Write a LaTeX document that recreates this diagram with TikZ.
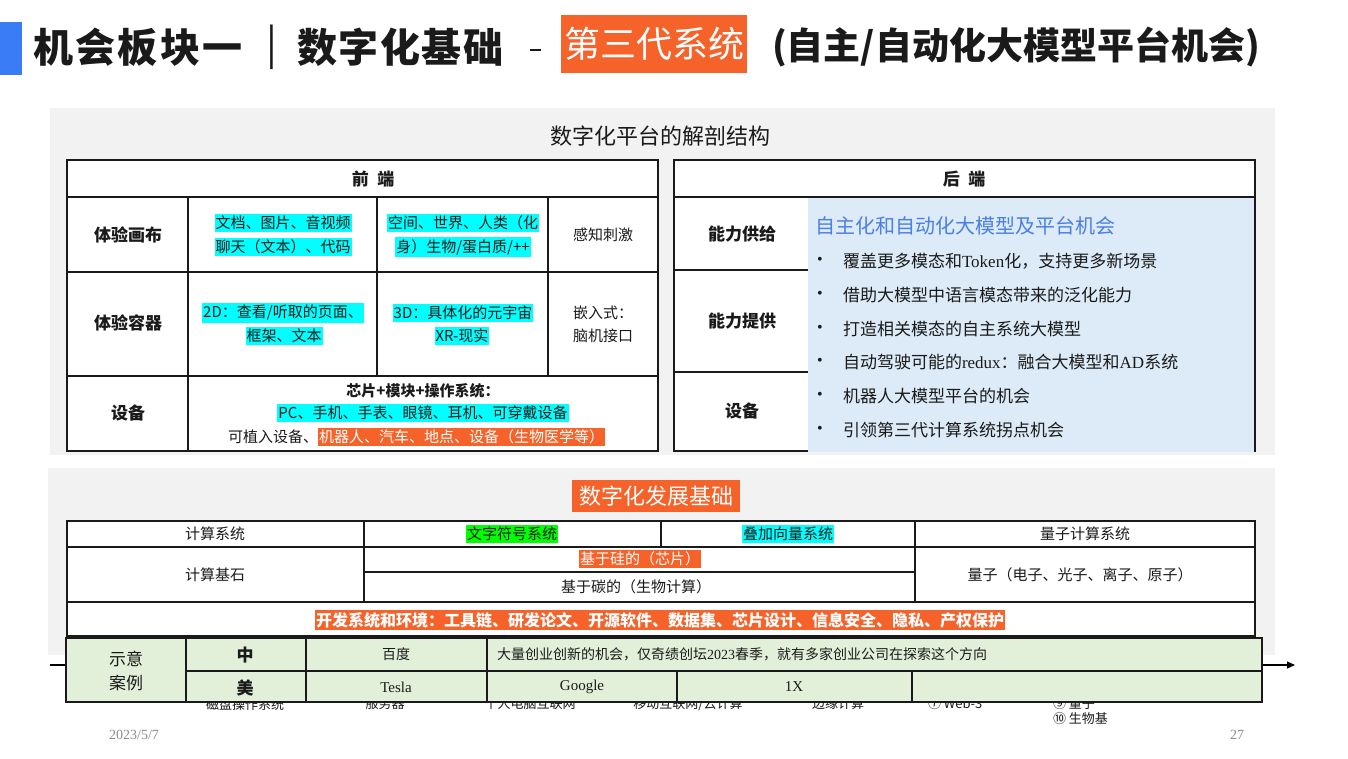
\documentclass[tikz,border=0pt]{standalone}
\usepackage{fontspec}
\setmainfont{Noto Sans CJK SC}
\newfontfamily\lat{Liberation Serif}
\usetikzlibrary{arrows.meta}
\definecolor{orng}{HTML}{F5622A}
\definecolor{bluebar}{HTML}{3A7CF6}
\definecolor{panel}{HTML}{F2F2F2}
\definecolor{ltblue}{HTML}{DCEBF7}
\definecolor{grn}{HTML}{E2F0D9}
\definecolor{hlcyan}{HTML}{00FFFF}
\definecolor{hlgreen}{HTML}{00FF00}
\definecolor{bluetxt}{HTML}{4A7FE3}
\definecolor{foot}{HTML}{8C8C8C}
\definecolor{ink}{HTML}{1A1A1A}
\newcommand\fsz[2]{\fontsize{#1}{#2}\selectfont}
\begin{document}
\begin{tikzpicture}[x=1pt,y=-1pt,
  every node/.style={inner sep=0pt, outer sep=0pt, text=ink},
  tbl/.style={draw=ink, line width=1.3pt},
  cell/.style={font=\fsz{15}{18}},
  lbl/.style={font=\fsz{17}{20}\bfseries},
  hl/.style={fill=hlcyan, inner xsep=1pt, inner ysep=2pt},
  hlo/.style={fill=orng, text=white, inner xsep=1pt, inner ysep=2pt},
  bul/.style={anchor=west, font=\fsz{17}{20}},
  hid/.style={font=\fsz{13}{15}}
]
\useasboundingbox (0,0) rectangle (1348,759);
\fill[white] (0,0) rectangle (1348,759);

% ---------- title ----------
\fill[bluebar] (0,22) rectangle (22,75);
\node[anchor=west, font=\fsz{40}{44}\bfseries\addfontfeature{LetterSpace=6}] (t1) at (33,47) {机会板块一};
\node[font=\fsz{40}{44}] (t2) at (272,47) {|};
\node[anchor=west, font=\fsz{40}{44}\bfseries\addfontfeature{LetterSpace=4}] (t3) at (297,47) {数字化基础};
\draw[line width=2.2pt, ink] (530,50) -- (541,50);
\node[fill=orng, minimum width=186pt, minimum height=58pt, text=white, font=\fsz{36}{40}] (t5) at (654,44) {第三代系统};
\node[anchor=west, font=\fsz{37}{42}\bfseries] (t6) at (772,47) {(自主/自动化大模型平台机会)};

% ---------- upper panel ----------
\fill[panel] (50,108) rectangle (1275,455);
\node[font=\fsz{22}{26}] (uptitle) at (660,136) {数字化平台的解剖结构};

% left table
\fill[white] (67,160) rectangle (658,451);
\draw[tbl] (67,160) rectangle (658,451);
\draw[tbl] (67,197) -- (658,197);
\draw[tbl] (67,272) -- (658,272);
\draw[tbl] (67,376) -- (658,376);
\draw[tbl] (188,197) -- (188,451);
\draw[tbl] (377,197) -- (377,376);
\draw[tbl] (548,197) -- (548,376);

\node[lbl] (qd) at (373,179) {前\hspace{0.5em}端};
\node[lbl] (l1) at (128,235) {体验画布};
\node[lbl] (l2) at (128,323) {体验容器};
\node[lbl] (l3) at (128,413) {设备};

\node[cell,hl] (c11a) at (283,223) {文档、图片、音视频};
\node[cell,hl] (c11b) at (283,247) {聊天（文本）、代码};
\node[cell,hl] (c12a) at (463,223) {空间、世界、人类（化};
\node[cell,hl] (c12b) at (463,247) {身）生物/蛋白质/++};
\node[cell] (c13) at (603,235) {感知刺激};

\node[cell,hl] (c21a) at (283,313) {2D：查看/听取的页面、};
\node[cell,hl] (c21b) at (284,336) {框架、文本};
\node[cell,hl] (c22a) at (463,313) {3D：具体化的元宇宙};
\node[cell,hl] (c22b) at (462,336) {XR-现实};
\node[cell] (c23a) at (603,313) {嵌入式：};
\node[cell] (c23b) at (603,336) {脑机接口};

\node[font=\fsz{15}{18}\bfseries] (c31a) at (423,391) {芯片+模块+操作系统：};
\node[cell,hl] (c31b) at (423,413) {PC、手机、手表、眼镜、耳机、可穿戴设备};
\node[cell,anchor=east] (c31c) at (318,437) {可植入设备、};
\node[cell,hlo,anchor=west] (c31d) at (318,437) {机器人、汽车、地点、设备（生物医学等）};

% right table
\fill[white] (674,160) rectangle (1255,451);
\draw[tbl] (674,160) rectangle (1255,451);
\draw[tbl] (674,197) -- (1255,197);
\fill[ltblue] (808,198) rectangle (1254,452);
\draw[tbl] (674,270) -- (808,270);
\draw[tbl] (674,372) -- (808,372);

\node[lbl] (hd) at (964,179) {后\hspace{0.5em}端};
\node[lbl] (r1) at (742,234) {能力供给};
\node[lbl] (r2) at (742,321) {能力提供};
\node[lbl] (r3) at (742,411) {设备};

\node[anchor=west, font=\fsz{20}{24}, text=bluetxt] (bt) at (815,226) {自主化和自动化大模型及平台机会};
\foreach \y/\t [count=\i] in {
  261/{覆盖更多模态和{\lat Token}化，支持更多新场景},
  295/{借助大模型中语言模态带来的泛化能力},
  329/{打造相关模态的自主系统大模型},
  362/{自动驾驶可能的{\lat redux}：融合大模型和{\lat AD}系统},
  396/{机器人大模型平台的机会},
  430/{引领第三代计算系统拐点机会}} {
  \node[font=\lat\fsz{16}{18}] (dot\i) at (820,\y) {•};
  \node[bul] (b\i) at (843,\y) {\t};
}

% ---------- lower panel ----------
\fill[panel] (48,468) rectangle (1275,655);
\node[fill=orng, text=white, minimum width=168pt, minimum height=32pt, font=\fsz{22}{26}] (lowtitle) at (656,496) {数字化发展基础};

\fill[white] (67,521) rectangle (1255,636);
\draw[tbl] (67,521) rectangle (1255,636);
\draw[tbl] (67,547) -- (1255,547);
\draw[tbl] (67,602) -- (1255,602);
\draw[tbl] (364,521) -- (364,602);
\draw[tbl] (661,521) -- (661,547);
\draw[tbl] (915,521) -- (915,602);
\draw[tbl] (364,572) -- (915,572);

\node[cell] (k1) at (215,534) {计算系统};
\node[cell, fill=hlgreen, inner xsep=1pt, inner ysep=2pt] (k2) at (512,534) {文字符号系统};
\node[cell,hl] (k3) at (788,534) {叠加向量系统};
\node[cell] (k4) at (1085,534) {量子计算系统};
\node[cell] (k5) at (215,575) {计算基石};
\node[cell,hlo] (k6) at (640,559) {基于硅的（芯片）};
\node[cell] (k7) at (636,587) {基于碳的（生物计算）};
\node[cell] (k8) at (1080,575) {量子（电子、光子、离子、原子）};
\node[font=\fsz{16}{19}\bfseries, fill=orng, text=white, inner xsep=1pt, inner ysep=2pt] (k9) at (660,620) {开发系统和环境：工具链、研发论文、开源软件、数据集、芯片设计、信息安全、隐私、产权保护};

% ---------- arrow and hidden labels ----------
\coordinate (arrS) at (50,665);
\coordinate (arrE) at (1295,665);
\draw[line width=1.2pt, -{Triangle[length=8pt,width=7pt]}] (arrS) -- (arrE);

\node[hid] (h1) at (245,704) {磁盘操作系统};
\node[hid] (h2) at (385,704) {服务器};
\node[hid] (h3) at (530,704) {个人电脑互联网};
\node[hid] (h4) at (688,704) {移动互联网/云计算};
\node[hid] (h5) at (838,704) {边缘计算};
\node[hid,anchor=west] (h6) at (928,704) {⑦ Web-3};
\node[hid,anchor=west] (h7) at (1053,704) {⑨ 量子};
\node[hid,anchor=west] (h8) at (1053,719) {⑩ 生物基};

% ---------- green example table ----------
\fill[grn] (66,638) rectangle (1262,702);
\draw[tbl] (66,638) rectangle (1262,702);
\draw[tbl] (186,671) -- (1262,671);
\draw[tbl] (186,638) -- (186,702);
\draw[tbl] (306,638) -- (306,702);
\draw[tbl] (487,638) -- (487,702);
\draw[tbl] (677,671) -- (677,702);
\draw[tbl] (912,671) -- (912,702);

\node[font=\fsz{17}{20}] (g1) at (126,659) {示意};
\node[font=\fsz{17}{20}] (g2) at (126,683) {案例};
\node[font=\fsz{17}{20}\bfseries] (g3) at (245,655) {中};
\node[font=\fsz{17}{20}\bfseries] (g4) at (245,688) {美};
\node[font=\fsz{14}{16}] (g5) at (396,654) {百度};
\node[font=\fsz{14}{16}, anchor=west] (g6) at (497,654) {大量创业创新的机会，仅奇绩创坛{\lat 2023}春季，就有多家创业公司在探索这个方向};
\node[font=\lat\fsz{15}{17}] (g7) at (396,687) {Tesla};
\node[font=\lat\fsz{15}{17}] (g8) at (582,687) {Google};
\node[font=\lat\fsz{15}{17}] (g9) at (794,687) {1X};

% ---------- footer ----------
\node[font=\lat\fsz{14}{16}, text=foot] (date) at (134,735) {2023/5/7};
\node[font=\lat\fsz{14}{16}, text=foot] (page) at (1237,735) {27};
\end{tikzpicture}
\end{document}
